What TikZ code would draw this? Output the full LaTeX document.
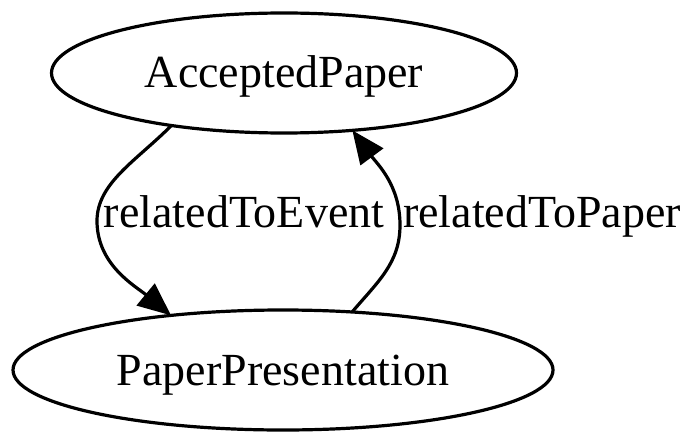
\documentclass[tikz,border=0pt]{standalone}
\usepackage{fontspec}
\setmainfont{Liberation Serif}
\usetikzlibrary{shapes.geometric,arrows.meta}
\begin{document}
\begin{tikzpicture}[x=1pt,y=1pt,
  statenode/.style={draw, ellipse, line width=3.2pt, inner sep=0pt, outer sep=0pt,
    font=\fontsize{46pt}{55pt}\selectfont, text height=40pt, text depth=10pt},
  edgeline/.style={line width=3.2pt, -{Triangle[length=33pt,width=28pt]}},
  edgelabel/.style={anchor=base, inner sep=0pt, font=\fontsize{46pt}{55pt}\selectfont}]
\useasboundingbox (0,0) rectangle (700,445);
\node[statenode, minimum width=465pt, minimum height=120pt] (A) at (284,372) {AcceptedPaper};
\node[statenode, minimum width=540pt, minimum height=120pt] (B) at (283,75) {PaperPresentation};
\draw[edgeline] (A.205) .. controls (136.2,284.1) and (97,262) .. (97,224)
  .. controls (97,180) and (135.6,158.8) .. (B.154);
\draw[edgeline] (B.40) .. controls (378,163.5) and (400,182) .. (400,220)
  .. controls (400,260) and (377.3,280.9) .. (A.320);
\node[edgelabel] (l1) at (244,218) {relatedToEvent};
\node[edgelabel] (l2) at (542,218) {relatedToPaper};
\end{tikzpicture}
\end{document}
